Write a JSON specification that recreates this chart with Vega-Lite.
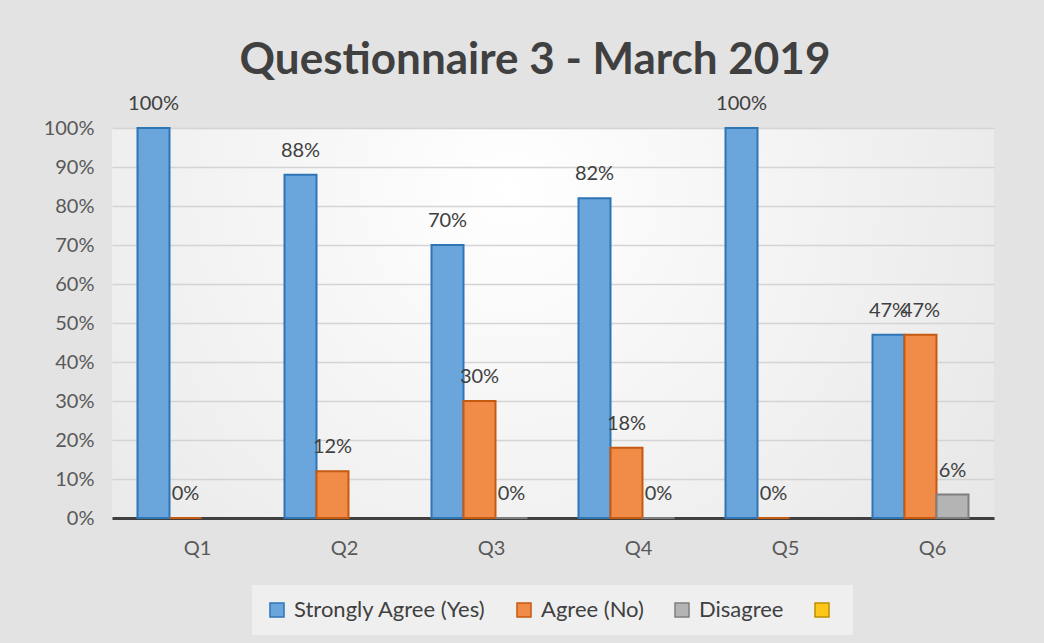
{
  "$schema": "https://vega.github.io/schema/vega-lite/v6.json",
  "autosize": {"type": "none"},
  "width": 882,
  "height": 390,
  "padding": {"left": 112, "top": 128, "right": 50, "bottom": 125},
  "background": "#e3e3e3",
  "title": {
    "text": "Questionnaire 3 - March 2019",
    "font": "Lato",
    "fontSize": 44,
    "fontWeight": "bold",
    "color": "#404040",
    "anchor": "middle",
    "dx": -18,
    "dy": 46,
    "baseline": "alphabetic",
    "offset": 22
  },
  "config": {
    "view": {
      "stroke": null,
      "fill": {
        "gradient": "radial",
        "x1": 0.45, "y1": 0.35, "r1": 0,
        "x2": 0.45, "y2": 0.35, "r2": 0.75,
        "stops": [
          {"offset": 0, "color": "#ffffff"},
          {"offset": 1, "color": "#e4e4e4"}
        ]
      }
    },
    "font": "Lato"
  },
  "data": {
    "values": [
      {"q": "Q1", "series": "Strongly Agree (Yes)", "value": 1.00},
      {"q": "Q1", "series": "Agree (No)", "value": 0.00},
      {"q": "Q2", "series": "Strongly Agree (Yes)", "value": 0.88},
      {"q": "Q2", "series": "Agree (No)", "value": 0.12},
      {"q": "Q3", "series": "Strongly Agree (Yes)", "value": 0.70},
      {"q": "Q3", "series": "Agree (No)", "value": 0.30},
      {"q": "Q3", "series": "Disagree", "value": 0.00},
      {"q": "Q4", "series": "Strongly Agree (Yes)", "value": 0.82},
      {"q": "Q4", "series": "Agree (No)", "value": 0.18},
      {"q": "Q4", "series": "Disagree", "value": 0.00},
      {"q": "Q5", "series": "Strongly Agree (Yes)", "value": 1.00},
      {"q": "Q5", "series": "Agree (No)", "value": 0.00},
      {"q": "Q6", "series": "Strongly Agree (Yes)", "value": 0.47},
      {"q": "Q6", "series": "Agree (No)", "value": 0.47},
      {"q": "Q6", "series": "Disagree", "value": 0.06}
    ]
  },
  "encoding": {
    "x": {
      "field": "q",
      "type": "nominal",
      "sort": null,
      "scale": {"paddingInner": 0.347, "paddingOuter": 0.1735},
      "axis": {
        "title": null,
        "labelAngle": 0,
        "labelFont": "Lato",
        "labelFontSize": 20,
        "labelColor": "#595959",
        "labelOffset": 12,
        "labelPadding": 20,
        "ticks": false,
        "domain": true,
        "domainColor": "#404040",
        "domainWidth": 3
      }
    },
    "xOffset": {
      "field": "series",
      "type": "nominal",
      "scale": {
        "domain": ["Strongly Agree (Yes)", "Agree (No)", "Disagree"],
        "paddingInner": 0,
        "paddingOuter": 0
      }
    },
    "y": {
      "field": "value",
      "type": "quantitative",
      "scale": {"domain": [0, 1], "nice": false},
      "axis": {
        "title": null,
        "format": ".0%",
        "values": [0, 0.1, 0.2, 0.3, 0.4, 0.5, 0.6, 0.7, 0.8, 0.9, 1],
        "labelFont": "Lato",
        "labelFontSize": 20,
        "labelColor": "#595959",
        "labelPadding": 18,
        "ticks": false,
        "domain": false,
        "grid": true,
        "gridColor": "#d4d4d4",
        "gridWidth": 1.5
      }
    }
  },
  "layer": [
    {
      "mark": {"type": "bar", "strokeWidth": 2},
      "encoding": {
        "fill": {
          "field": "series",
          "type": "nominal",
          "scale": {
            "domain": ["Strongly Agree (Yes)", "Agree (No)", "Disagree", ""],
            "range": ["#6aa5dc", "#f08b48", "#b4b4b4", "#ffc61a"]
          },
          "legend": {
            "title": null,
            "orient": "none",
            "legendX": 140,
            "legendY": 457,
            "direction": "horizontal",
            "fillColor": "#efefef",
            "padding": 14,
            "columnPadding": 27,
            "labelOffset": 6,
            "labelLimit": 400,
            "labelFont": "Lato",
            "labelFontSize": 22,
            "labelColor": "#404040",
            "symbolType": "square",
            "symbolSize": 196,
            "symbolStrokeWidth": 1.5,
            "symbolOpacity": 1
          }
        },
        "stroke": {
          "field": "series",
          "type": "nominal",
          "scale": {
            "domain": ["Strongly Agree (Yes)", "Agree (No)", "Disagree", ""],
            "range": ["#2e75b6", "#c55a11", "#7f7f7f", "#bf9000"]
          },
          "legend": null
        }
      }
    },
    {
      "mark": {"type": "text", "baseline": "bottom", "dy": -14, "fontSize": 20, "font": "Lato", "color": "#404040"},
      "encoding": {
        "text": {"field": "value", "type": "quantitative", "format": ".0%"}
      }
    }
  ]
}
